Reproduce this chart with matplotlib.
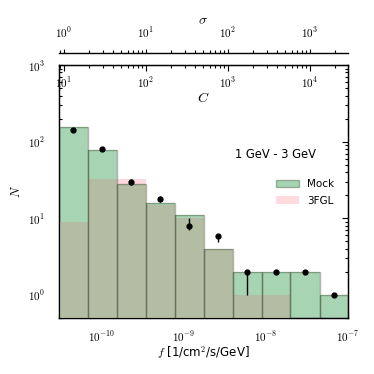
import matplotlib
matplotlib.use("Agg")
import matplotlib.pyplot as plt
import numpy as np
from matplotlib.patches import Patch
from matplotlib.ticker import FuncFormatter, NullFormatter

plt.rcParams["mathtext.fontset"] = "cm"
plt.rcParams["font.family"] = "DejaVu Sans"

# flux bin edges [1/cm^2/s/GeV]
f_edges = [3.0e-11, 6.77e-11, 1.53e-10, 3.44e-10, 7.77e-10, 1.75e-9,
           3.95e-9, 8.9e-9, 2.0e-8, 4.52e-8, 1.0e-7]
mock_counts = [155, 78, 28, 16, 11, 4, 2, 2, 2, 1]
fgl_counts = [9, 33, 33, 15, 10, 4, 1, 1, 0, 0]
# data points with asymmetric errors
pts = [142, 80, 29.6, 17.7, 7.9, 5.9, 2, 2, 2, 1]
err_lo = [9, 5, 2.3, 1.2, 0.9, 1.0, 1, 0, 0, 0]
err_hi = [10, 5, 2.5, 2.1, 2.1, 0.2, 0, 0, 0, 0]

# conversions for the top axes
C_PER_F = 10 ** 11.46
SIGMA_PER_C = 0.1

GREEN = "#a7d5b3"
PINK = "#ffdade"
OLIVE = "#b4bda3"
EDGE = (0.25, 0.27, 0.2, 0.4)


def style_log_axis(axis):
    # only label whole decades that are inside the view
    def fmt(v, pos):
        lo, hi = sorted(axis.get_view_interval())
        e = np.log10(v)
        if abs(e - round(e)) < 1e-6 and lo * 0.999 <= v <= hi * 1.001:
            return r"$10^{%d}$" % round(e)
        return ""
    axis.set_major_formatter(FuncFormatter(fmt))
    axis.set_minor_formatter(NullFormatter())


edges = np.array(f_edges)
left = edges[:-1]
widths = np.diff(edges)
centers = np.sqrt(edges[:-1] * edges[1:])
mock = np.array(mock_counts, dtype=float)
fgl = np.array(fgl_counts, dtype=float)
overlap = np.minimum(mock, fgl)

fig = plt.figure(figsize=(3.74, 3.74), dpi=100)
ax = fig.add_axes([0.157, 0.150, 0.773, 0.676])
ax.set_xscale("log")
ax.set_yscale("log")

m = fgl > 0
ax.bar(left[m], fgl[m], width=widths[m], align="edge", color=PINK, lw=0, zorder=1)
ax.bar(left, mock, width=widths, align="edge", color=GREEN, lw=0, zorder=2)
m = overlap > 0
ax.bar(left[m], overlap[m], width=widths[m], align="edge", color=OLIVE, lw=0, zorder=3)
ax.bar(left, mock, width=widths, align="edge", facecolor="none", edgecolor=EDGE,
       lw=1.0, zorder=4)

ax.errorbar(centers, pts, yerr=[err_lo, err_hi], fmt="o", color="black", ms=3.5,
            elinewidth=1.0, capsize=0, zorder=5)

ax.set_xlim(edges[0], edges[-1])
ax.set_ylim(0.5, 1000)
style_log_axis(ax.xaxis)
style_log_axis(ax.yaxis)
ax.tick_params(which="both", direction="in", labelsize=8, top=False, right=True,
               width=0.8)
ax.tick_params(axis="x", pad=8.5)
ax.tick_params(axis="y", pad=10)
ax.tick_params(which="major", length=4)
ax.tick_params(which="minor", length=2)
for sp in ax.spines.values():
    sp.set_linewidth(1.0)

ax.set_xlabel("$f$ [1/cm$^2$/s/GeV]", fontsize=8.5, labelpad=0)
ax.set_ylabel("$N$", fontsize=9, labelpad=3)

ax.text(0.75, 0.648, "1 GeV - 3 GeV", transform=ax.transAxes, fontsize=8.3,
        ha="center", va="center")

handles = [Patch(facecolor=GREEN, edgecolor=EDGE, lw=1.0, label="Mock"),
           Patch(facecolor=PINK, lw=0, label="3FGL")]
ax.legend(handles=handles, loc="upper right", bbox_to_anchor=(0.985, 0.585),
          frameon=False, fontsize=7.5, handlelength=2.2, handletextpad=0.8,
          labelspacing=0.6)

# C axis on the top spine, labels inside
axc = ax.twiny()
axc.set_xscale("log")
axc.set_xlim(edges[0] * C_PER_F, edges[-1] * C_PER_F)
style_log_axis(axc.xaxis)
axc.tick_params(which="both", direction="in", labelsize=8, pad=-18, width=0.8)
axc.tick_params(which="major", length=4)
axc.tick_params(which="minor", length=2)
ax.text(0.5, 0.87, "$C$", transform=ax.transAxes, fontsize=10, ha="center",
        va="center")

# sigma axis above
axs = ax.twiny()
axs.set_xscale("log")
axs.set_xlim(edges[0] * C_PER_F * SIGMA_PER_C, edges[-1] * C_PER_F * SIGMA_PER_C)
style_log_axis(axs.xaxis)
for name in ["left", "right", "bottom"]:
    axs.spines[name].set_visible(False)
axs.spines["top"].set_position(("outward", 9))
axs.spines["top"].set_linewidth(1.0)
axs.tick_params(which="both", direction="out", labelsize=8, width=0.8, pad=6)
axs.tick_params(which="major", length=3)
axs.tick_params(which="minor", length=2)
axs.set_xlabel(r"$\sigma$", fontsize=10, labelpad=1)

fig.savefig("out.png", dpi=100)
